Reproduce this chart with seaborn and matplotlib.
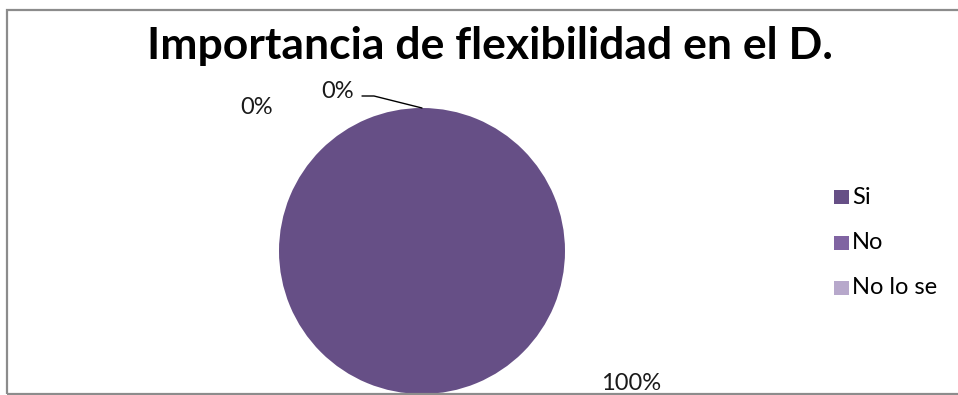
import matplotlib
matplotlib.use("Agg")
import matplotlib.pyplot as plt
from matplotlib.patches import Rectangle
import seaborn as sns

categories = ["Si", "No", "No lo se"]
values = [100, 0, 0]
colors = ["#664F86", "#8064A2", "#B7A8CB"]
title = "Importancia de flexibilidad en el D."

sns.set_theme(style="white")
plt.rcParams["font.family"] = ["Lato", "DejaVu Sans"]

W, H = 958, 395
fig = plt.figure(figsize=(W / 100, H / 100), dpi=100)
fig.patch.set_facecolor("white")

# chart frame
fig.add_artist(Rectangle((7 / W, 1 / H), (W + 10) / W, (394 - 10) / H,
                         transform=fig.transFigure, fill=False,
                         edgecolor="#8C8C8C", linewidth=1.6))

cx, cy, r = 422, 251, 143
ax = fig.add_axes([(cx - r) / W, (H - cy - r) / H, 2 * r / W, 2 * r / H])
wedges, _ = ax.pie(values, colors=colors, startangle=90, counterclock=False,
                   radius=1.0, wedgeprops=dict(linewidth=0))
ax.set_xlim(-1, 1)
ax.set_ylim(-1, 1)
ax.set_aspect("auto")
ax.axis("off")

total = sum(values)
pcts = [f"{round(v / total * 100)}%" for v in values]


def fx(px):
    return px / W


def fy(py):
    return 1 - py / H


lab_fs = 17
# percentage labels
fig.text(fx(631), fy(383), pcts[0], ha="center", va="center", fontsize=lab_fs, color="#1a1a1a")
fig.text(fx(338), fy(91), pcts[1], ha="center", va="center", fontsize=lab_fs, color="#1a1a1a")
fig.text(fx(257), fy(107), pcts[2], ha="center", va="center", fontsize=lab_fs, color="#1a1a1a")
fig.add_artist(plt.Line2D([fx(362), fx(374), fx(422)], [fy(96), fy(96), fy(108)],
                          transform=fig.transFigure, color="black", linewidth=1.0))

# title
fig.text(fx(490), fy(46), title, ha="center", va="center", fontsize=32,
         fontweight="bold", color="black")

# legend
leg_y = [197, 243, 288]
for cat, col, ly in zip(categories, colors, leg_y):
    fig.add_artist(Rectangle((fx(834), fy(ly + 7)), 15 / W, 14 / H,
                             transform=fig.transFigure, facecolor=col, edgecolor="none"))
    fig.text(fx(852), fy(ly), cat, ha="left", va="center", fontsize=lab_fs, color="black")

fig.savefig("out.png", dpi=100, facecolor="white")
